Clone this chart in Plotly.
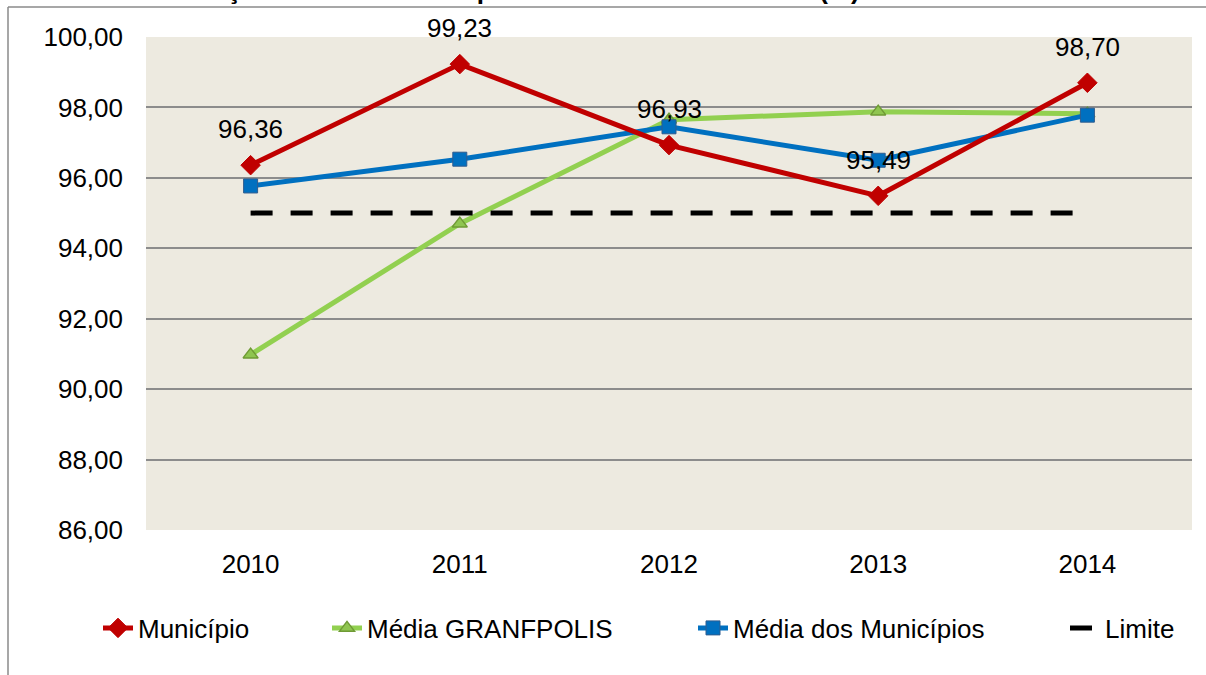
import plotly.graph_objects as go

anos = ["2010", "2011", "2012", "2013", "2014"]
municipio = [96.36, 99.23, 96.93, 95.49, 98.70]
media_granfpolis = [90.98, 94.70, 97.65, 97.88, 97.82]
media_municipios = [95.77, 96.53, 97.45, 96.50, 97.78]
limite = [95.00, 95.00, 95.00, 95.00, 95.00]
y_ticks = [86, 88, 90, 92, 94, 96, 98, 100]

titulo = "Gráfico 13 – Evolução Histórica e Comparativa – 60% do FUNDEB (%): 2010 – 2014"

FONT = "Arial, Liberation Sans, sans-serif"
FS = 26

W, H = 1206, 675
ML, MR, MT, MB = 146, 14, 37, 145
PW = W - ML - MR
PH = H - MT - MB


def px_x(px):
    return (px - ML) / PW


def px_y(py):
    return (H - MB - py) / PH


fig = go.Figure()

fig.add_trace(go.Scatter(
    x=anos, y=media_granfpolis, name="Média GRANFPOLIS", mode="lines+markers",
    line=dict(color="#92D050", width=5),
    marker=dict(symbol="triangle-up", size=13, color="#8FC550",
                line=dict(color="#6F9A35", width=1.5)),
    legend="legend2",
))
fig.add_trace(go.Scatter(
    x=anos, y=media_municipios, name="Média dos Municípios", mode="lines+markers",
    line=dict(color="#0070C0", width=5),
    marker=dict(symbol="square", size=14, color="#0070C0",
                line=dict(color="#2F5C8F", width=1)),
    legend="legend3",
))
fig.add_trace(go.Scatter(
    x=anos, y=municipio, name="Município", mode="lines+markers",
    line=dict(color="#C00000", width=5),
    marker=dict(symbol="diamond", size=15, color="#C00000",
                line=dict(color="#C00000", width=1)),
    legend="legend",
))
fig.add_trace(go.Scatter(
    x=anos, y=limite, name="Limite", mode="lines",
    line=dict(color="#000000", width=5, dash="22px,18px"),
    legend="legend4",
))

for i, v in enumerate(municipio):
    fig.add_annotation(
        x=i, y=v, text=f"{v:.2f}".replace(".", ","), showarrow=False,
        yshift=36, font=dict(family=FONT, size=FS, color="#000000"),
    )

# title (cut off at top like the reference)
fig.add_annotation(
    xref="paper", yref="paper", x=px_x(-2), y=px_y(7), xanchor="left", yanchor="bottom",
    text=f"<b>{titulo}</b>", showarrow=False,
    font=dict(family=FONT, size=26, color="#000000"),
)

# outer chart frame (left and top edges)
fig.add_shape(type="line", xref="paper", yref="paper",
              x0=px_x(8), x1=px_x(8), y0=px_y(7), y1=px_y(690),
              line=dict(color="#8A8A8A", width=1.5))
fig.add_shape(type="line", xref="paper", yref="paper",
              x0=px_x(8), x1=px_x(1220), y0=px_y(7), y1=px_y(7),
              line=dict(color="#8A8A8A", width=1.5))

legend_common = dict(
    orientation="h", yanchor="middle", y=px_y(628), xanchor="left",
    font=dict(family=FONT, size=FS, color="#000000"), bgcolor="rgba(0,0,0,0)",
)
text_starts = {"legend": 138, "legend2": 367, "legend3": 733, "legend4": 1105}
legends = {k: dict(legend_common, x=px_x(v - 40)) for k, v in text_starts.items()}

fig.update_layout(
    width=W, height=H,
    margin=dict(l=ML, r=MR, t=MT, b=MB),
    paper_bgcolor="#FFFFFF",
    plot_bgcolor="#EDEAE0",
    separators=",.",
    font=dict(family=FONT, size=FS, color="#000000"),
    showlegend=True,
    **legends,
    xaxis=dict(
        type="category", range=[-0.5, 4.5], showgrid=False, zeroline=False,
        showline=False, ticks="", ticklabelstandoff=16,
        tickfont=dict(family=FONT, size=FS, color="#000000"),
    ),
    yaxis=dict(
        range=[86, 100], tickvals=y_ticks, tickformat=".2f",
        showgrid=True, gridcolor="#8C8C8C", gridwidth=1.5, zeroline=False,
        showline=False, ticks="", ticklabelstandoff=22,
        tickfont=dict(family=FONT, size=FS, color="#000000"),
    ),
)

fig.write_html("out.html", config={"displayModeBar": False},
               post_script="document.body.style.margin='0px';")
